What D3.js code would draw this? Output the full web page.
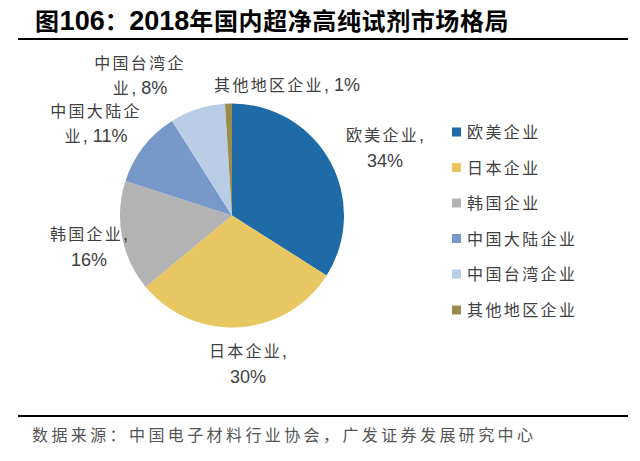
<!DOCTYPE html>
<html>
<head>
<meta charset="utf-8">
<script src="https://cdn.jsdelivr.net/npm/d3@7"></script>
<style>
  html, body { margin: 0; padding: 0; background: #fff; }
  svg { display: block; }
</style>
</head>
<body>
<svg id="chart" width="640" height="461"></svg>
<script>
// ---- data ----
const categories = ["欧美企业", "日本企业", "韩国企业", "中国大陆企业", "中国台湾企业", "其他地区企业"];
const values = [34, 30, 16, 11, 8, 1];
const colors = ["#1F6BA7", "#E8C662", "#B3B3B3", "#7898CA", "#B9CDE6", "#9B8C4D"];
// data label text lines (as shown on chart)
const labelLines = [
  ["欧美企业,", "34%"],
  ["日本企业,", "30%"],
  ["韩国企业,", "16%"],
  ["中国大陆企", "业, 11%"],
  ["中国台湾企", "业, 8%"],
  ["其他地区企业, 1%"]
];
const labelPos = [
  [385, 135], [248, 351], [89, 234], [96, 110.5], [140, 62.5], [287, 85]
];
const titleText = "图106：2018年国内超净高纯试剂市场格局";
const sourceText = "数据来源：中国电子材料行业协会，广发证券发展研究中心";

// ---- layout ----
const svg = d3.select("#chart");
const cx = 232, cy = 215.5, r = 112;
const CJK = "'Noto Sans CJK SC', sans-serif";
const LAT = "'Liberation Sans', Arial, sans-serif";

// split text into CJK / latin runs
function runs(str) {
  const out = [];
  const re = /[\u3000-\u9fff\uff00-\uffef]+|[^\u3000-\u9fff\uff00-\uffef]+/g;
  let m;
  while ((m = re.exec(str))) {
    out.push({ t: m[0], cjk: /[\u3000-\u9fff\uff00-\uffef]/.test(m[0]) });
  }
  return out;
}

// title
const title = svg.append("text")
  .attr("x", 35).attr("y", 30)
  .attr("font-weight", "bold").attr("fill", "#000");
runs(titleText).forEach(ru => {
  title.append("tspan")
    .attr("font-family", ru.cjk ? CJK : LAT)
    .attr("font-size", ru.cjk ? 24 : 27)
    .attr("letter-spacing", ru.cjk ? 0.6 : 0)
    .text(ru.t);
});

// top and bottom rules
svg.append("line").attr("x1", 18).attr("x2", 628).attr("y1", 39).attr("y2", 39)
  .attr("stroke", "#000").attr("stroke-width", 2);
svg.append("line").attr("x1", 18).attr("x2", 628).attr("y1", 416).attr("y2", 416)
  .attr("stroke", "#000").attr("stroke-width", 2);

// source
svg.append("text")
  .attr("x", 32).attr("y", 441)
  .attr("font-family", CJK).attr("font-size", 16)
  .attr("letter-spacing", 3.4)
  .attr("fill", "#555")
  .text(sourceText);

// pie
const pie = d3.pie().sort(null).value(d => d)
  .startAngle(0).endAngle(2 * Math.PI);
const arc = d3.arc().innerRadius(0).outerRadius(r);
const arcs = pie(values);
svg.append("g").attr("transform", `translate(${cx},${cy})`)
  .selectAll("path").data(arcs).join("path")
  .attr("d", arc)
  .attr("fill", (d, i) => colors[i]);

// data labels
labelLines.forEach((lines, i) => {
  const [lx, ly] = labelPos[i];
  const t = svg.append("text").attr("text-anchor", "middle").attr("fill", "#404040");
  lines.forEach((ln, j) => {
    const y = ly + j * 25.5 + 6;
    runs(ln).forEach((ru, k) => {
      const ts = t.append("tspan")
        .attr("font-family", ru.cjk ? CJK : LAT)
        .attr("font-size", ru.cjk ? 16 : 18)
        .attr("letter-spacing", ru.cjk ? 2.3 : 0)
        .text(ru.t);
      if (k === 0) ts.attr("x", lx).attr("y", y);
    });
  });
});

// legend
const legendY = [132, 167.5, 203, 238.5, 274, 310];
const lg = svg.append("g");
categories.forEach((c, i) => {
  lg.append("rect")
    .attr("x", 452).attr("y", legendY[i] - 4.5)
    .attr("width", 9).attr("height", 9)
    .attr("fill", colors[i]);
  lg.append("text")
    .attr("x", 467).attr("y", legendY[i] + 6)
    .attr("font-family", CJK).attr("font-size", 16)
    .attr("letter-spacing", 2.4)
    .attr("fill", "#404040")
    .text(c);
});
</script>
</body>
</html>
